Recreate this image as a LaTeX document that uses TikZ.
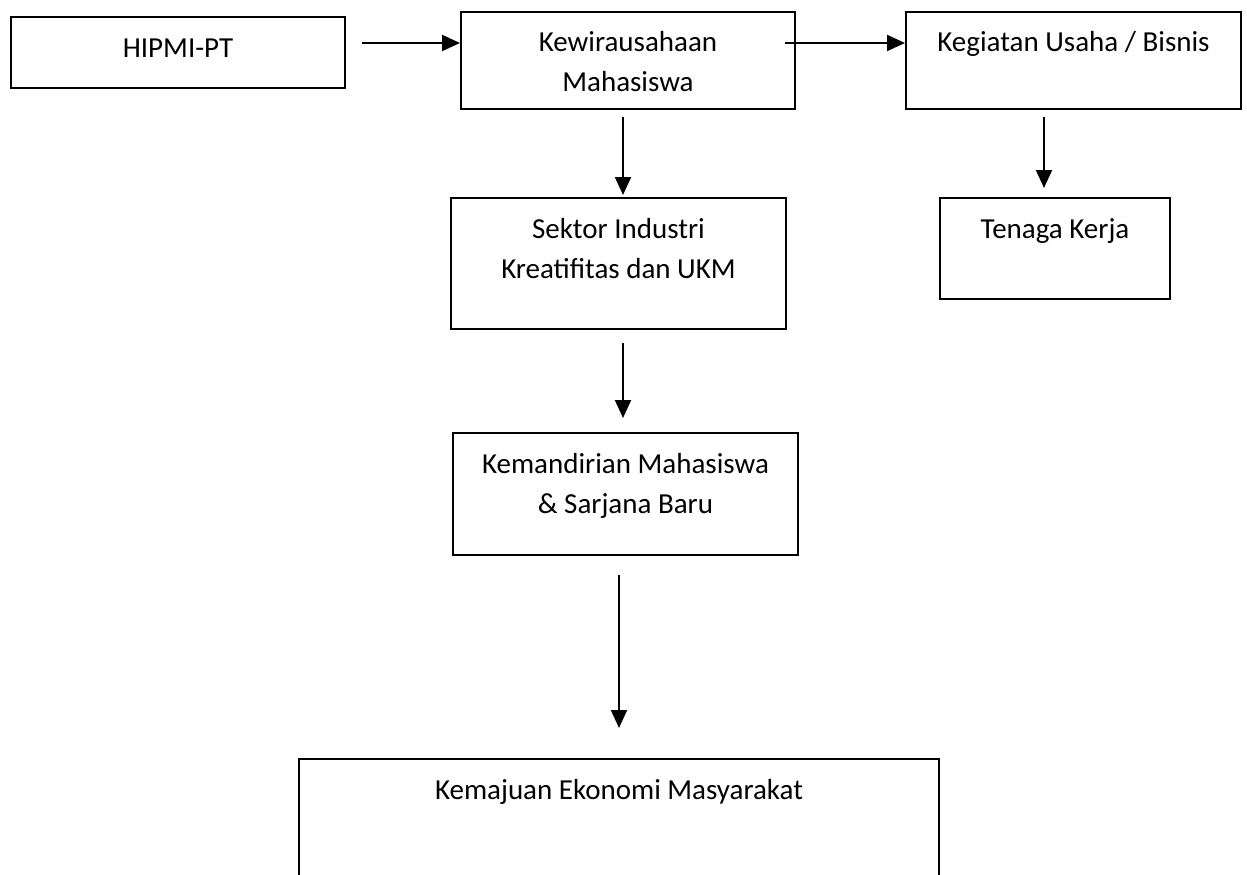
\documentclass[tikz,border=0pt]{standalone}
\usepackage{fontspec}
\setmainfont{Carlito}
\usetikzlibrary{arrows.meta,calc}

\tikzset{
  box/.style={draw, line width=2pt, anchor=north west, inner sep=0pt},
  txt/.style={anchor=base, align=center, inner sep=0pt,
              font=\fontsize{29}{40}\selectfont},
  arr/.style={line width=2pt, -{Triangle[length=18pt,width=16pt]}}
}

\begin{document}
\begin{tikzpicture}[x=1pt,y=-1pt]
\useasboundingbox[fill=white] (0,0) rectangle (1247,875);

% boxes
\node[box, minimum width=334pt, minimum height=71pt]  (hipmi)  at (10,16)   {};
\node[box, minimum width=334pt, minimum height=97pt]  (kwm)    at (460,11)  {};
\node[box, minimum width=335pt, minimum height=97pt]  (keg)    at (905,11)  {};
\node[box, minimum width=335pt, minimum height=131pt] (sektor) at (450,197) {};
\node[box, minimum width=230pt, minimum height=101pt] (tenaga) at (939,197) {};
\node[box, minimum width=345pt, minimum height=122pt] (kmd)    at (452,432) {};
\node[box, minimum width=640pt, minimum height=150pt] (kmj)    at (298,758) {};

% texts (base = last line, so two-line texts sit 40 lower)
\node[txt] (hipmiTxt)  at ($(hipmi.north)+(0,41)$)  {HIPMI-PT};
\node[txt] (kwmTxt)    at ($(kwm.north)+(0,81)$)    {Kewirausahaan\\Mahasiswa};
\node[txt] (kegTxt)    at ($(keg.north)+(0,41)$)    {Kegiatan Usaha / Bisnis};
\node[txt] (sektorTxt) at ($(sektor.north)+(0,81)$) {Sektor Industri\\Kreatifitas dan UKM};
\node[txt] (tenagaTxt) at ($(tenaga.north)+(0,41)$) {Tenaga Kerja};
\node[txt] (kmdTxt)    at ($(kmd.north)+(0,81)$)    {Kemandirian Mahasiswa\\\& Sarjana Baru};
\node[txt] (kmjTxt)    at ($(kmj.north)+(0,41)$)    {Kemajuan Ekonomi Masyarakat};

% arrows
\coordinate (a1) at ($(hipmi.north east)+(16,27)$);
\draw[arr] (a1) -- (a1 -| kwm.west);
\coordinate (a2) at ($(kwm.north east)+(-11,32)$);
\draw[arr] (a2) -- (a2 -| keg.west);
\coordinate (a3) at ($(kwm.south)+(-5,7)$);
\draw[arr, shorten >=2pt] (a3) -- (a3 |- sektor.north);
\coordinate (a4) at ($(keg.south)+(-29.5,7)$);
\coordinate (a4e) at ($(tenaga.north)+(0,-9)$);
\draw[arr] (a4) -- (a4 |- a4e);
\coordinate (a5) at ($(sektor.south)+(4.5,13)$);
\coordinate (a5e) at ($(kmd.north)+(0,-14)$);
\draw[arr] (a5) -- (a5 |- a5e);
\coordinate (a6) at ($(kmd.south)+(-6.5,19)$);
\coordinate (a6e) at ($(kmj.north)+(0,-30)$);
\draw[arr] (a6) -- (a6 |- a6e);

\end{tikzpicture}
\end{document}
